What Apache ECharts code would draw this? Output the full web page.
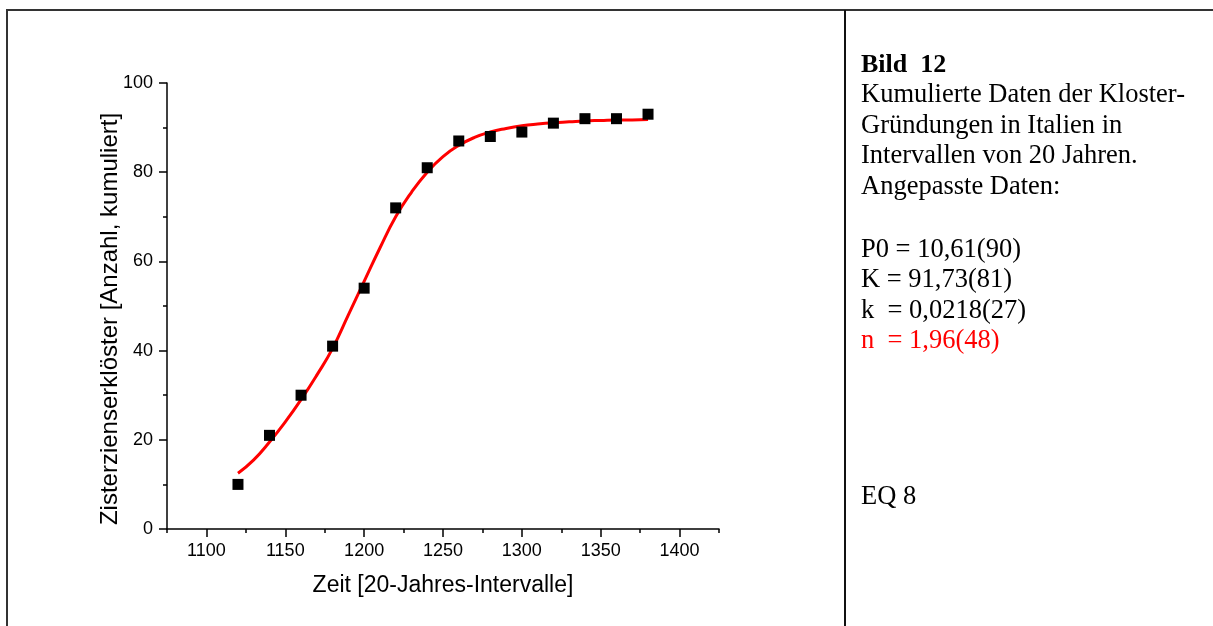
<!DOCTYPE html>
<html>
<head>
<meta charset="utf-8">
<script src="https://cdn.jsdelivr.net/npm/echarts@6/dist/echarts.min.js"></script>
<style>
html,body{margin:0;padding:0;background:#fff;}
#c{width:1213px;height:626px;}
</style>
</head>
<body>
<div id="c"></div>
<script>
// Observed data (cumulative Cistercian monastery foundations in Italy)
var years = [1120, 1140, 1160, 1180, 1200, 1220, 1240, 1260, 1280, 1300, 1320, 1340, 1360, 1380];
var counts = [10, 21, 30, 41, 54, 72, 81, 87, 88, 89, 91, 92, 92, 93];

// Fitted curve
var fitYears = [1120, 1130, 1140, 1150, 1160, 1170, 1180, 1190, 1200, 1210, 1220, 1230, 1240, 1250, 1260, 1270, 1280, 1290, 1300, 1310, 1320, 1330, 1340, 1350, 1360, 1370, 1380];
var fitValues = [12.5, 15.5, 19.5, 24, 29, 34.5, 40.5, 48, 55.5, 63, 70, 75.5, 80, 83.5, 86, 87.8, 89, 89.8, 90.4, 90.8, 91.1, 91.3, 91.5, 91.6, 91.7, 91.7, 91.8];

// Axis ticks
var xMajorTicks = [1100, 1150, 1200, 1250, 1300, 1350, 1400];
var xMinorTicks = [1075, 1125, 1175, 1225, 1275, 1325, 1375, 1425];

// Texts
var xTitle = 'Zeit [20-Jahres-Intervalle]';
var yTitle = 'Zisterzienserklöster [Anzahl, kumuliert]';
var captionTitle = 'Bild  12';
var captionLines = ['Kumulierte Daten der Kloster-', 'Gründungen in Italien in', 'Intervallen von 20 Jahren.', 'Angepasste Daten:'];
var paramLines = ['P0 = 10,61(90)', 'K = 91,73(81)', 'k  = 0,0218(27)'];
var paramRed = 'n  = 1,96(48)';
var eqLabel = 'EQ 8';

var sans = '"Liberation Sans", Arial, sans-serif';
var serif = '"Liberation Serif", "Times New Roman", serif';

var chart = echarts.init(document.getElementById('c'), null, {renderer: 'canvas'});

var graphics = [];
// frame lines
graphics.push({type: 'line', shape: {x1: 6, y1: 10, x2: 1213, y2: 10}, style: {stroke: '#333', lineWidth: 2}, silent: true});
graphics.push({type: 'line', shape: {x1: 7, y1: 10, x2: 7, y2: 626}, style: {stroke: '#333', lineWidth: 2}, silent: true});
graphics.push({type: 'line', shape: {x1: 845, y1: 10, x2: 845, y2: 626}, style: {stroke: '#111', lineWidth: 2}, silent: true});

// y axis title
graphics.push({
  type: 'text', x: 110, y: 319, rotation: Math.PI / 2,
  style: {text: yTitle, font: '24px ' + sans, fill: '#000', textAlign: 'center', textVerticalAlign: 'middle'}
});

// caption
var lh = 30.5, y0 = 65;
graphics.push({type: 'text', x: 861, y: y0, style: {text: captionTitle, font: 'bold 26px ' + serif, fill: '#000', textVerticalAlign: 'middle'}});
captionLines.forEach(function (t, i) {
  graphics.push({type: 'text', x: 861, y: y0 + lh * (i + 1), style: {text: t, font: '26.5px ' + serif, fill: '#000', textVerticalAlign: 'middle'}});
});
var py = 250;
paramLines.forEach(function (t, i) {
  graphics.push({type: 'text', x: 861, y: py + lh * i, style: {text: t, font: '26.5px ' + serif, fill: '#000', textVerticalAlign: 'middle'}});
});
graphics.push({type: 'text', x: 861, y: py + lh * 3, style: {text: paramRed, font: '26.5px ' + serif, fill: '#ff0000', textVerticalAlign: 'middle'}});
graphics.push({type: 'text', x: 861, y: 497, style: {text: eqLabel, font: '26.5px ' + serif, fill: '#000', textVerticalAlign: 'middle'}});

var option = {
  backgroundColor: '#fff',
  animation: false,
  grid: {left: 167, top: 83, width: 552, height: 446, containLabel: false},
  xAxis: [{
    type: 'value', min: 1075, max: 1425,
    axisLine: {show: true, lineStyle: {color: '#000', width: 1.5}},
    axisTick: {show: true, customValues: xMinorTicks, length: 4, lineStyle: {color: '#000', width: 1.5}},
    axisLabel: {show: false},
    splitLine: {show: false},
    name: xTitle, nameLocation: 'middle', nameGap: 45,
    nameTextStyle: {fontFamily: sans, fontSize: 23, color: '#000'}
  }, {
    type: 'value', min: 1075, max: 1425, position: 'bottom',
    axisLine: {show: false},
    axisTick: {show: true, customValues: xMajorTicks, length: 8, lineStyle: {color: '#000', width: 1.5}},
    axisLabel: {show: true, customValues: xMajorTicks, margin: 13, fontFamily: sans, fontSize: 18, color: '#000',
      formatter: function (v) { return String(v); }},
    splitLine: {show: false}
  }],
  yAxis: {
    type: 'value', min: 0, max: 100, interval: 20,
    axisLine: {show: true, lineStyle: {color: '#000', width: 1.5}},
    axisTick: {show: true, length: 8, lineStyle: {color: '#000', width: 1.5}},
    minorTick: {show: true, splitNumber: 2, length: 4, lineStyle: {color: '#000', width: 1.5}},
    axisLabel: {margin: 14, fontFamily: sans, fontSize: 18, color: '#000'},
    splitLine: {show: false}
  },
  graphic: graphics,
  series: [{
    type: 'line', xAxisIndex: 0,
    data: fitYears.map(function (x, i) { return [x, fitValues[i]]; }),
    smooth: true, showSymbol: false, symbol: 'none',
    lineStyle: {color: '#ff0000', width: 3}, z: 2
  }, {
    type: 'scatter', xAxisIndex: 0,
    data: years.map(function (x, i) { return [x, counts[i]]; }),
    symbol: 'rect', symbolSize: 11,
    itemStyle: {color: '#000', opacity: 1}, z: 3
  }]
};
chart.setOption(option);
</script>
</body>
</html>
